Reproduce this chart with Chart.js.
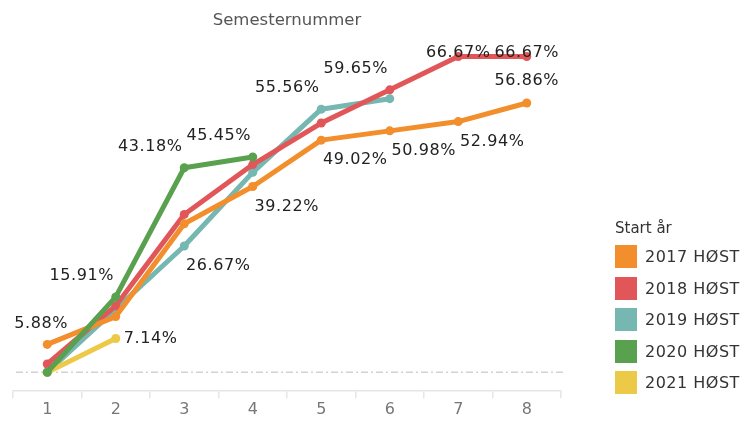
<!DOCTYPE html>
<html>
<head>
<meta charset="utf-8">
<script src="https://cdn.jsdelivr.net/npm/chart.js@4"></script>
<style>
  body { margin: 0; background: #fff; }
  #wrap { position: relative; width: 744px; height: 421px; }
  #legend { position: absolute; left: 615px; top: 217px; font-family: "DejaVu Sans", sans-serif; color: #333; }
  #legend .ttl { font-size: 15px; height: 24px; line-height: 22px; }
  #legend .item { height: 31.5px; display: flex; align-items: center; font-size: 16px; letter-spacing: 0.5px; }
  #legend .box { width: 22px; height: 23px; margin-right: 8px; }
</style>
</head>
<body>
<div id="wrap">
  <canvas id="chart" width="744" height="421"></canvas>
  <div id="legend"><div class="ttl">Start år</div></div>
</div>
<script>
// data
const categories = ['1', '2', '3', '4', '5', '6', '7', '8'];
const seriesNames = ['2017 HØST', '2018 HØST', '2019 HØST', '2020 HØST', '2021 HØST'];
const y2017 = [5.88, 11.76, 31.37, 39.22, 49.02, 50.98, 52.94, 56.86];
const y2018 = [1.75, 14.04, 33.33, 43.86, 52.63, 59.65, 66.67, 66.67];
const y2019 = [0, 13.33, 26.67, 42.22, 55.56, 57.78];
const y2020 = [0, 15.91, 43.18, 45.45];
const y2021 = [0, 7.14];
const colors = ['#F28E2B', '#E15759', '#76B7B2', '#59A14F', '#EDC948'];

// where the value labels sit relative to their point
const PLACE = {
    above: { dx: 0, dy: -22 },
    aboveEdge: { dx: -6, dy: -21 },
    aboveLeft: { dx: -34, dy: -21 },
    belowRight: { dx: 34, dy: 20 },
    top: { dx: 0, dy: -4 },
    right: { dx: 35, dy: 0 }
};
const labelSpots = [
    { 0: 'aboveEdge', 3: 'belowRight', 4: 'belowRight', 5: 'belowRight', 6: 'belowRight', 7: 'above' },
    { 5: 'aboveLeft', 6: 'top', 7: 'top' },
    { 2: 'belowRight', 4: 'aboveLeft' },
    { 1: 'aboveLeft', 2: 'aboveLeft', 3: 'aboveLeft' },
    { 1: 'right' }
];
const drawOrder = [2, 3, 4, 0, 1];  // lower = on top

const allData = [y2017, y2018, y2019, y2020, y2021];

const datasets = allData.map((d, i) => ({
    label: seriesNames[i],
    data: d,
    borderColor: colors[i],
    backgroundColor: colors[i],
    pointBackgroundColor: colors[i],
    borderWidth: 5,
    pointRadius: 4.5,
    pointBorderWidth: 0,
    pointHoverRadius: 4.5,
    tension: 0,
    borderCapStyle: 'round',
    borderJoinStyle: 'round',
    order: drawOrder[i],
    fill: false
}));

// dash-dot zero line
const zeroLine = {
    id: 'zeroLine',
    beforeDatasetsDraw(chart) {
        const ctx = chart.ctx;
        const y = chart.scales.y.getPixelForValue(0);
        ctx.save();
        ctx.strokeStyle = '#d2d2d2';
        ctx.lineWidth = 1.5;
        ctx.setLineDash([7, 3, 2, 3]);
        ctx.beginPath();
        ctx.moveTo(chart.chartArea.left + 3, y);
        ctx.lineTo(chart.chartArea.right + 2, y);
        ctx.stroke();
        ctx.restore();
    }
};

// value labels
const valueLabels = {
    id: 'valueLabels',
    afterDatasetsDraw(chart) {
        const ctx = chart.ctx;
        ctx.save();
        ctx.font = '16px "DejaVu Sans"';
        ctx.letterSpacing = '0.6px';
        ctx.fillStyle = '#222';
        ctx.textAlign = 'center';
        ctx.textBaseline = 'middle';
        chart.data.datasets.forEach((ds, i) => {
            const meta = chart.getDatasetMeta(i);
            Object.keys(labelSpots[i]).forEach(k => {
                const pt = meta.data[k];
                const p = PLACE[labelSpots[i][k]];
                ctx.fillText(ds.data[k].toFixed(2) + '%', pt.x + p.dx, pt.y + p.dy);
            });
        });
        ctx.restore();
    }
};

new Chart(document.getElementById('chart'), {
    type: 'line',
    data: { labels: categories, datasets: datasets },
    options: {
        responsive: false,
        animation: false,
        layout: { padding: { left: 13, right: 183, top: 0, bottom: 0 } },
        plugins: {
            legend: { display: false },
            tooltip: { enabled: false },
            title: {
                display: true,
                text: 'Semesternummer',
                fullSize: false,
                color: '#555',
                font: { family: 'DejaVu Sans', size: 16.5, weight: 'normal', lineHeight: 1.2 },
                padding: { top: 11, bottom: 10 }
            }
        },
        scales: {
            x: {
                offset: true,
                border: { display: true, color: '#e6e6e6', width: 1.5 },
                grid: { offset: true, drawOnChartArea: false, tickLength: 7, color: '#e6e6e6', lineWidth: 1.5 },
                ticks: { color: '#777', font: { family: 'DejaVu Sans', size: 16, lineHeight: 1.05 }, padding: 3 }
            },
            y: {
                display: false,
                min: -4,
                max: 70
            }
        }
    },
    plugins: [zeroLine, valueLabels]
});

// legend
const leg = document.getElementById('legend');
seriesNames.forEach((name, i) => {
    const row = document.createElement('div');
    row.className = 'item';
    row.innerHTML = '<span class="box" style="background:' + colors[i] + '"></span>' + name;
    leg.appendChild(row);
});
</script>
</body>
</html>
